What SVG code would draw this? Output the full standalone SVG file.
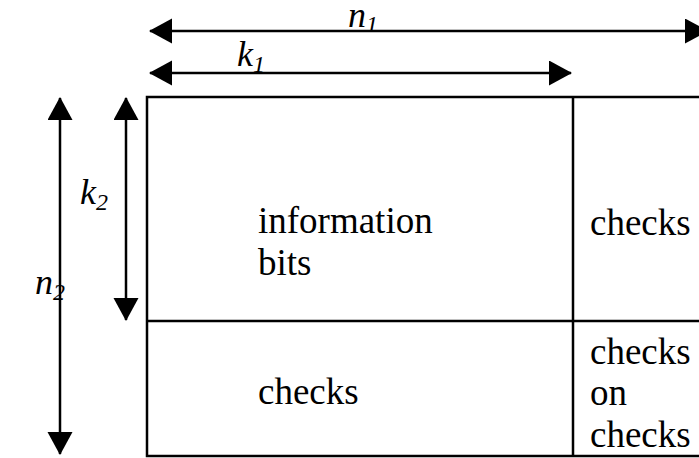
<svg xmlns="http://www.w3.org/2000/svg" width="699" height="458" viewBox="0 0 699 458">
<defs>
<style>
.ln{stroke:#000;stroke-width:2.5;fill:none}
.arr{stroke:#000;stroke-width:2.5;fill:none;marker-start:url(#ah);marker-end:url(#ah)}
text{font-family:'Liberation Serif','Times New Roman',serif;fill:#000}
.t{font-size:37px}
.it{font-size:36px;font-style:italic}
.sub{font-size:24px}
</style>
<marker id="ah" markerUnits="userSpaceOnUse" markerWidth="24" markerHeight="26" refX="22" refY="12.5" orient="auto-start-reverse">
<path d="M0,0 L23,12.5 L0,25 z" fill="#000"/>
</marker>
</defs>
<rect width="699" height="458" fill="#fff"/>
<g id="connectors">
<line class="arr" x1="150" y1="31" x2="707" y2="31"/>
<line class="arr" x1="150" y1="73" x2="571" y2="73"/>
<line class="arr" x1="60" y1="98" x2="60" y2="454"/>
<line class="arr" x1="126" y1="98" x2="126" y2="320"/>
</g>
<g id="labels">
<text class="it" x="348" y="27">n<tspan class="sub" dy="5">1</tspan></text>
<text class="it" x="237" y="66">k<tspan class="sub" dy="6">1</tspan></text>
<text class="it" x="80" y="204">k<tspan class="sub" dy="6">2</tspan></text>
<text class="it" x="35" y="294">n<tspan class="sub" dy="6">2</tspan></text>
</g>
<g id="table">
<rect class="ln" x="147" y="97" width="570" height="359"/>
<line class="ln" x1="573" y1="97" x2="573" y2="456"/>
<line class="ln" x1="147" y1="321" x2="717" y2="321"/>
</g>
<g id="info">
<text class="t" x="258" y="233">information</text>
<text class="t" x="258" y="275">bits</text>
</g>
<g id="checks-right">
<text class="t" x="590" y="235">checks</text>
</g>
<g id="checks-bottom">
<text class="t" x="258" y="404">checks</text>
</g>
<g id="checks-on-checks">
<text class="t" x="590" y="364">checks</text>
<text class="t" x="590" y="405">on</text>
<text class="t" x="590" y="447">checks</text>
</g>
</svg>
